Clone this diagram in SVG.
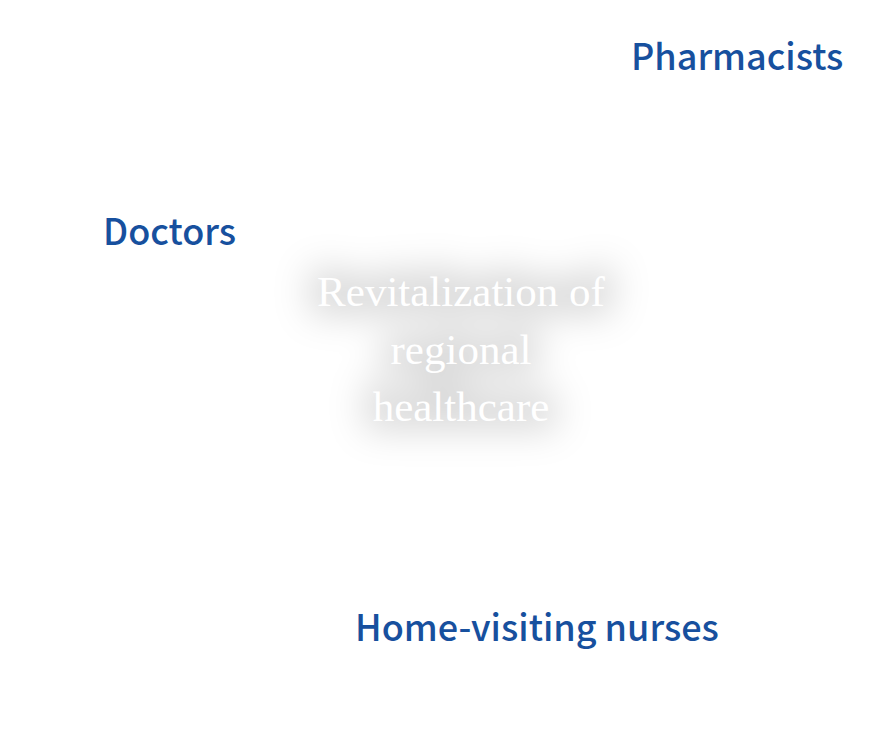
<svg xmlns="http://www.w3.org/2000/svg" width="880" height="748" viewBox="0 0 880 748">
<defs>
<style>
.lbl{font-family:"Noto Sans CJK JP","Noto Sans",sans-serif;font-size:36px;font-weight:500;fill:#17509e}
.ctr{font-family:"Liberation Serif","DejaVu Serif",serif;font-size:43px;fill:#ffffff;text-anchor:middle}
</style>
<filter id="glow" x="-35%" y="-80%" width="170%" height="260%">
<feMorphology in="SourceAlpha" operator="dilate" radius="9" result="d"/>
<feGaussianBlur in="d" stdDeviation="18" result="b"/>
<feFlood flood-color="#000000" flood-opacity="0.15"/>
<feComposite in2="b" operator="in"/>
</filter>
</defs>
<rect width="880" height="748" fill="#ffffff"/>
<g id="center">
<g filter="url(#glow)">
<text class="ctr" x="461" y="306">Revitalization of</text>
<text class="ctr" x="461" y="364">regional</text>
<text class="ctr" x="461" y="421">healthcare</text>
</g>
<text class="ctr" x="461" y="306">Revitalization of</text>
<text class="ctr" x="461" y="364">regional</text>
<text class="ctr" x="461" y="421">healthcare</text>
</g>
<g id="pharmacists"><text class="lbl" x="631" y="70">Pharmacists</text></g>
<g id="doctors"><text class="lbl" x="103" y="245">Doctors</text></g>
<g id="nurses"><text class="lbl" x="355" y="641">Home-visiting nurses</text></g>
<g id="connectors"></g>
</svg>
